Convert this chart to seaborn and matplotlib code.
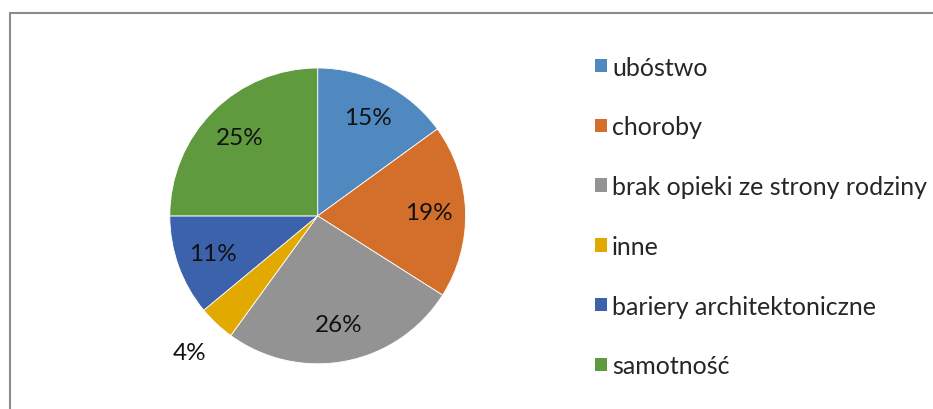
import numpy as np
import matplotlib
matplotlib.use("Agg")
import matplotlib.pyplot as plt
import matplotlib.patches as mpatches
import seaborn as sns

# data
categories = ["ubóstwo", "choroby", "brak opieki ze strony rodziny", "inne",
              "bariery architektoniczne", "samotność"]
shares = [15, 19, 26, 4, 11, 25]
colors = ["#4F89BF", "#D46F2B", "#939393", "#E2A900", "#3C62AC", "#5F9B3E"]


def main():
    sns.set_theme(style="white")
    plt.rcParams["font.family"] = ["Lato", "DejaVu Sans"]

    fig = plt.figure(figsize=(9.33, 4.10), dpi=100)
    ax = fig.add_axes([0.182, 0.110, 0.317, 0.722])

    wedges, texts, autotexts = ax.pie(
        shares, colors=colors, startangle=90, counterclock=False,
        autopct="%.0f%%", pctdistance=0.75,
        wedgeprops=dict(linewidth=0.6, edgecolor="white"),
        textprops=dict(fontsize=17.5, color="#111111"))
    ax.set_xlim(-1, 1)
    ax.set_ylim(-1, 1)
    ax.set_aspect("equal")

    # small slice label sits outside the pie
    w = wedges[3]
    mid = np.deg2rad((w.theta1 + w.theta2) / 2)
    autotexts[3].set_position((1.27 * np.cos(mid), 1.27 * np.sin(mid)))

    # legend on the right
    handles = [mpatches.Patch(facecolor=c, edgecolor="none") for c in colors]
    fig.legend(handles, categories, loc="upper left",
               bbox_to_anchor=(0.638, 0.862), frameon=False,
               fontsize=18, borderpad=0, borderaxespad=0,
               handlelength=0.45, handleheight=0.45, handletextpad=0.22,
               labelspacing=1.47)

    # chart area border (cut at right and bottom, as in the source)
    border = mpatches.Rectangle((10 / 933, -0.2), 1.2, 1.2 - 14 / 410,
                                transform=fig.transFigure, fill=False,
                                edgecolor="#8c8c8c", linewidth=1.5)
    fig.patches.append(border)

    fig.savefig("out.png", dpi=100)


if __name__ == "__main__":
    main()
